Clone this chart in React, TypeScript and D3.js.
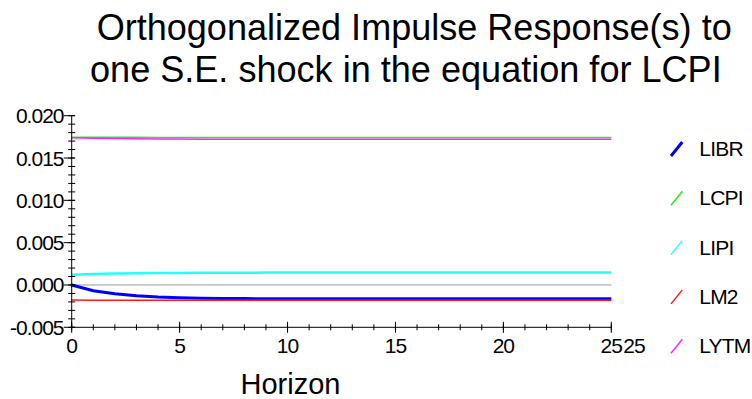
import React from 'react';
import * as d3 from 'd3';

// horizons 0..25
const horizon = d3.range(0, 26);

const LIBR = [0, -0.00068, -0.00104, -0.00128, -0.00143, -0.00152, -0.00157, -0.0016, -0.00161, -0.00162,
  -0.00162, -0.00163, -0.00163, -0.00163, -0.00163, -0.00163, -0.00163, -0.00163, -0.00163, -0.00163,
  -0.00163, -0.00163, -0.00163, -0.00163, -0.00163, -0.00163];
const LCPI = [0.01745, 0.01745, 0.01744, 0.01744, 0.01743, 0.01743, 0.01743, 0.01742, 0.01742, 0.01742,
  0.01742, 0.01742, 0.01742, 0.01742, 0.01742, 0.01742, 0.01742, 0.01742, 0.01742, 0.01742,
  0.01742, 0.01742, 0.01742, 0.01742, 0.01742, 0.01742];
const LIPI = [0.00122, 0.0013, 0.00135, 0.00139, 0.00141, 0.00143, 0.00144, 0.00145, 0.00145, 0.00146,
  0.00146, 0.00146, 0.00146, 0.00146, 0.00146, 0.00146, 0.00146, 0.00146, 0.00146, 0.00146,
  0.00146, 0.00146, 0.00146, 0.00146, 0.00146, 0.00146];
const LM2 = [-0.00178, -0.00179, -0.0018, -0.0018, -0.0018, -0.0018, -0.0018, -0.0018, -0.0018, -0.0018,
  -0.0018, -0.0018, -0.0018, -0.0018, -0.0018, -0.0018, -0.0018, -0.0018, -0.0018, -0.0018,
  -0.0018, -0.0018, -0.0018, -0.0018, -0.0018, -0.0018];
const LYTM = [0.0174, 0.01735, 0.01731, 0.01728, 0.01726, 0.01724, 0.01723, 0.01722, 0.01722, 0.01721,
  0.01721, 0.01721, 0.01721, 0.01721, 0.01721, 0.01721, 0.01721, 0.01721, 0.01721, 0.01721,
  0.01721, 0.01721, 0.01721, 0.01721, 0.01721, 0.01721];

const seriesNames = ['LIBR', 'LCPI', 'LIPI', 'LM2', 'LYTM'];
const seriesValues = [LIBR, LCPI, LIPI, LM2, LYTM];
const seriesColors = ['#0000ff', '#22ee22', '#22ffff', '#ff1a1a', '#ff22ff'];
const seriesWidths = [3, 1.5, 2.5, 1.5, 1.5];

const yTicks = [-0.005, 0, 0.005, 0.01, 0.015, 0.02];
const xTicks = [0, 5, 10, 15, 20, 25];

const titleLines = ['Orthogonalized Impulse Response(s) to', 'one S.E. shock in the equation for LCPI'];

const W = 752;
const H = 399;
const font = '"Liberation Sans", Arial, sans-serif';

export default function App() {
  const x = d3.scaleLinear().domain([0, 25]).range([71.7, 611.3]);
  const y = d3.scaleLinear().domain([-0.005, 0.02]).range([327.3, 115.7]);
  const fmt = (v: number) => d3.format('.3f')(v).replace('\u2212', '-');

  const line = d3.line<number>()
    .x((_, i) => x(horizon[i]))
    .y(d => y(d));

  const yMinor = d3.range(-0.005, 0.02001, 0.001);
  const xMinor = d3.range(0, 26, 1);

  return (
    <svg width={W} height={H} style={{ position: 'absolute', left: 0, top: 0, background: '#fff' }}
      fontFamily={font}>
      {/* title */}
      <text x={96.7} y={40} fontSize={36} textLength={635} lengthAdjust="spacingAndGlyphs">{titleLines[0]}</text>
      <text x={90} y={81.7} fontSize={36} textLength={631.7} lengthAdjust="spacingAndGlyphs">{titleLines[1]}</text>

      {/* zero line */}
      <line x1={x(0)} x2={x(25)} y1={y(0)} y2={y(0)} stroke="#999" strokeWidth={1} />

      {/* series */}
      {seriesValues.map((vals, i) => (
        <path key={seriesNames[i]} d={line(vals) || ''} fill="none"
          stroke={seriesColors[i]} strokeWidth={seriesWidths[i]} />
      ))}

      {/* y axis */}
      <line x1={x(0)} x2={x(0)} y1={y(0.02)} y2={y(-0.005)} stroke="#000" strokeWidth={1} />
      {yMinor.map((v, i) => (
        <line key={'ym' + i} x1={x(0) - 3.5} x2={x(0) + 3.5} y1={y(v)} y2={y(v)} stroke="#000" strokeWidth={1} />
      ))}
      {yTicks.map(t => (
        <g key={'yt' + t}>
          <line x1={x(0) - 8} x2={x(0) + 3} y1={y(t)} y2={y(t)} stroke="#000" strokeWidth={1} />
          <text x={63.5} y={y(t) + 7.5} fontSize={21} letterSpacing={-1} textAnchor="end">{fmt(t)}</text>
        </g>
      ))}

      {/* x axis */}
      <line x1={x(0)} x2={x(25)} y1={y(-0.005)} y2={y(-0.005)} stroke="#000" strokeWidth={1} />
      {xMinor.map(v => (
        <line key={'xm' + v} x1={x(v)} x2={x(v)} y1={y(-0.005) - 3} y2={y(-0.005) + 3} stroke="#000" strokeWidth={1} />
      ))}
      {xTicks.map(t => (
        <g key={'xt' + t}>
          <line x1={x(t)} x2={x(t)} y1={y(-0.005) - 5.5} y2={y(-0.005) + 5.5} stroke="#000" strokeWidth={1} />
          <text x={x(t)} y={352.7} fontSize={21} letterSpacing={-1} textAnchor="middle">{t}</text>
        </g>
      ))}
      <text x={634} y={352.7} fontSize={21} letterSpacing={-1} textAnchor="middle">{xTicks[xTicks.length - 1]}</text>

      <text x={290.5} y={394} fontSize={29} textAnchor="middle">Horizon</text>

      {/* legend */}
      {seriesNames.map((name, i) => {
        const by = 156 + i * 49.3;
        return (
          <g key={'lg' + name}>
            <line x1={671} y1={by} x2={682.3} y2={by - 14} stroke={seriesColors[i]}
              strokeWidth={i === 0 ? 3 : 1.5} />
            <text x={699.3} y={by} fontSize={21} letterSpacing={-0.8}>{name}</text>
          </g>
        );
      })}
    </svg>
  );
}
